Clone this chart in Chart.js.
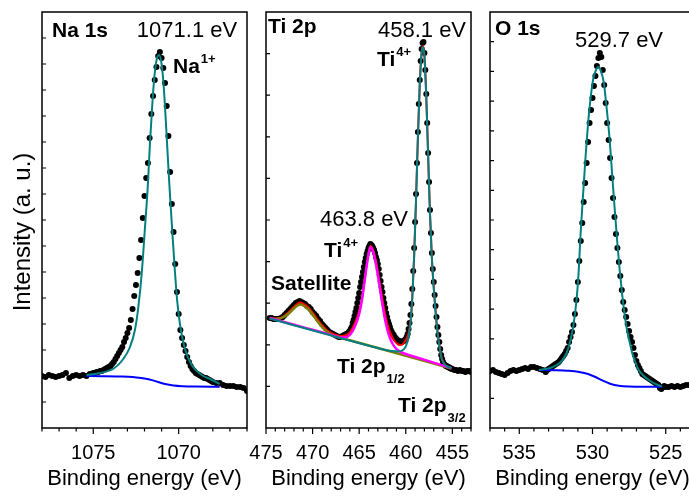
<!DOCTYPE html>
<html>
<head>
<meta charset="utf-8">
<script src="https://cdn.jsdelivr.net/npm/chart.js@4.4.0/dist/chart.umd.min.js"></script>
<style>
  html, body { margin: 0; padding: 0; background: #fff; overflow: hidden; }
  body { width: 689px; height: 499px; position: relative; }
  canvas { position: absolute; top: 0; }
</style>
</head>
<body>
<canvas id="naChart" width="260" height="499" style="left:0px"></canvas>
<canvas id="tiChart" width="260" height="499" style="left:224px"></canvas>
<canvas id="oChart" width="260" height="499" style="left:448px"></canvas>
<script>
// ===== XPS spectra: Na 1s, Ti 2p, O 1s =====
// [binding energy (eV), intensity (a.u.)]
const naRaw = [
  [1078.0,52],[1077.8,51],[1077.6,53],[1077.4,52],[1077.2,51],[1077.0,52],[1076.8,53],[1076.6,55],
  [1076.4,50],[1076.2,52],[1076.0,53],[1075.8,52],[1075.6,53],[1075.4,52],[1075.2,54],[1075.0,55],
  [1074.9,55],[1074.8,56],[1074.7,56],[1074.6,57],[1074.5,57],[1074.4,58],[1074.3,59],[1074.2,60],
  [1074.1,61],[1074.0,62],[1073.9,64],[1073.8,66],[1073.7,69],[1073.6,72],[1073.5,75],[1073.4,78],
  [1073.3,81],[1073.2,86],[1073.1,90],[1073.0,95],[1072.9,100],[1072.8,108],[1072.7,119],[1072.6,132],
  [1072.5,143],[1072.4,155],[1072.3,170],[1072.2,188],[1072.1,210],[1072.0,232],[1071.9,250],[1071.8,265],
  [1071.7,290],[1071.6,314],[1071.5,332],[1071.4,348],[1071.3,361],[1071.2,372],[1071.1,376],[1071.0,370],
  [1070.9,360],[1070.8,345],[1070.7,322],[1070.6,292],[1070.5,256],[1070.4,224],[1070.3,196],[1070.2,164],
  [1070.1,136],[1070.0,114],[1069.9,98],[1069.8,90],[1069.7,83],[1069.6,77],[1069.5,71],[1069.4,66],
  [1069.3,62],[1069.2,59],[1069.1,57],[1069.0,55],[1068.9,54],[1068.8,53],[1068.7,52],[1068.6,51],
  [1068.5,50],[1068.4,50],[1068.3,49],[1068.2,48],[1068.1,47],[1068.0,46],[1067.8,45],[1067.6,45],
  [1067.4,43],[1067.2,42],[1067.0,42],[1066.8,42],[1066.6,41],[1066.4,41],[1066.2,40],[1066.0,37]
];
const naFit = [
  [1075.4,53],[1074.6,55],[1073.8,59.5],[1073.24,69],[1072.85,81],[1072.56,98],[1072.36,121],[1072.16,155],
  [1071.97,201],[1071.81,241],[1071.68,285],[1071.52,330],[1071.38,358],[1071.25,371],[1071.15,373],[1071.0,364],
  [1070.86,338],[1070.7,291],[1070.55,245],[1070.39,201],[1070.23,159],[1070.08,126],[1069.88,99],[1069.63,79],
  [1069.24,63],[1068.65,53],[1068.1,48.5],[1067.6,44]
];
const naBackground = [
  [1075.4,52],[1074.5,51.8],[1073.5,51.5],[1072.7,51],[1072.2,50],[1071.7,48.5],[1071.2,46],[1070.8,44],
  [1070.3,42.5],[1069.8,41.8],[1069.0,41.4],[1067.6,41.3]
];

const tiRaw = [
  [474.6,110],[474.4,110],[474.2,109],[474.0,109],[473.8,109],[473.6,109],[473.4,110],[473.2,111],
  [473.0,113],[472.8,115],[472.6,117],[472.4,119],[472.2,121],[472.0,123],[471.8,125],[471.6,126],
  [471.4,127],[471.2,126],[471.0,125],[470.8,124],[470.6,122],[470.4,121],[470.2,119],[470.0,116],
  [469.8,114],[469.6,112],[469.4,109],[469.2,107],[469.0,104],[468.8,102],[468.6,100],[468.4,98],
  [468.2,96],[468.0,95],[467.8,94],[467.6,93],[467.4,92],[467.2,91],[467.0,91],[466.8,92],
  [466.6,93],[466.4,94],[466.2,95],[466.1,96],[466.0,97],[465.9,99],[465.8,101],[465.7,105],
  [465.6,108],[465.5,112],[465.4,116],[465.3,120],[465.2,125],[465.1,130],[465.0,135],[464.9,141],
  [464.8,146],[464.7,151],[464.6,156],[464.5,161],[464.4,166],[464.3,170],[464.2,174],[464.1,177],
  [464.0,180],[463.9,182],[463.8,184],[463.7,183],[463.6,182],[463.5,180],[463.4,178],[463.3,175],
  [463.2,171],[463.1,168],[463.0,164],[462.9,159],[462.8,153],[462.7,147],[462.6,141],[462.5,136],
  [462.4,130],[462.3,125],[462.2,120],[462.1,115],[462.0,111],[461.9,107],[461.8,104],[461.7,101],
  [461.6,98],[461.5,96],[461.4,94],[461.3,93],[461.2,91],[461.1,90],[461.0,89],[460.9,88],
  [460.8,87],[460.7,87],[460.6,86],[460.5,86],[460.4,86],[460.3,87],[460.2,87],[460.1,88],
  [460.0,89],[459.9,91],[459.8,94],[459.7,99],[459.6,105],[459.5,113],[459.4,124],[459.3,139],
  [459.2,157],[459.1,180],[459.0,206],[458.9,234],[458.8,265],[458.7,296],[458.6,324],[458.5,348],
  [458.4,367],[458.3,379],[458.2,385],[458.1,386],[458.0,375],[457.9,358],[457.8,334],[457.7,305],
  [457.6,275],[457.5,246],[457.4,218],[457.3,195],[457.2,175],[457.1,159],[457.0,146],[456.9,133],
  [456.8,122],[456.7,111],[456.6,101],[456.5,93],[456.4,86],[456.3,79],[456.2,73],[456.1,69],
  [456.0,66],[455.9,64],[455.8,63],[455.7,62],[455.6,62],[455.5,61],[455.4,61],[455.3,60],
  [455.2,60],[455.1,59],[455.0,59],[454.8,58],[454.6,58],[454.4,57],[454.2,58],[454.0,57],
  [453.8,57],[453.6,56],[453.4,57],[453.2,57],[453.0,56]
];
const tiEnvelope = [
  [474.6,110],[474.0,109.5],[473.5,110],[473.0,112.5],[472.5,116.5],[472.0,121],[471.6,124.5],[471.3,125.5],
  [471.0,124.5],[470.5,121],[470.0,115.5],[469.5,109],[469.0,103],[468.5,98],[468.0,95],[467.5,93],
  [467.0,92],[466.5,92.5],[466.0,95.5],[465.5,104],[465.0,117],[464.7,130],[464.4,149],[464.1,169],
  [463.8,182],[463.5,178],[463.2,167],[462.9,151],[462.6,134],[462.3,118],[462.0,105],[461.6,94],
  [461.2,87],[460.8,83.5],[460.5,83],[460.2,85],[459.9,90],[459.7,95],[459.5,106],[459.3,131],
  [459.1,172.5],[458.9,228.5],[458.7,290.5],[458.5,343.5],[458.3,375.5],[458.15,382],[458.0,373],[457.8,331.5],
  [457.6,272.5],[457.4,214.5],[457.2,170.5],[457.0,141],[456.8,117],[456.6,97],[456.4,83],[456.2,72],
  [456.0,66.5],[455.7,62.5],[455.4,61],[455.1,60]
];
const tiSatellite = [
  [474.6,110],[474.0,109],[473.5,109.5],[473.0,111.5],[472.5,115],[472.0,119.5],[471.6,122.5],[471.3,123.5],
  [471.0,122.5],[470.5,119],[470.0,113.5],[469.5,107],[469.0,101],[468.5,96.5],[468.0,93.5],[467.5,91.5],
  [467.0,90.3],[466.0,87.8],[455.1,59.5]
];
const tiP12 = [
  [474.6,110],[472.0,103.3],[470.0,98.2],[468.0,93.1],[467.0,90.6],[466.5,90.6],[466.0,93],[465.5,100.5],
  [465.0,114],[464.7,128],[464.4,148],[464.1,168],[463.8,181],[463.5,176],[463.2,164],[462.9,147],
  [462.6,129],[462.3,112],[462.0,99],[461.7,90],[461.4,84],[461.1,80],[460.8,77.5],[460.4,75.5],
  [460.0,74],[459.5,72.5],[455.1,60]
];
const tiP32 = [
  [474.6,109.5],[468.0,92.5],[463.0,80],[461.5,77],[460.8,76.5],[460.4,77.5],[460.1,80],[459.9,84],
  [459.7,91],[459.5,104],[459.3,130],[459.1,172],[458.9,228],[458.7,290],[458.5,343],[458.3,375],
  [458.15,381],[458.0,372],[457.8,331],[457.6,272],[457.4,214],[457.2,170],[457.0,140],[456.8,116],
  [456.6,96],[456.4,82],[456.2,71],[456.0,66],[455.7,62.5],[455.4,61],[455.1,60]
];

const oRaw = [
  [537.0,57],[536.8,58],[536.6,56],[536.4,55],[536.2,54],[536.0,53],[535.8,55],[535.6,57],
  [535.4,58],[535.2,57],[535.0,58],[534.8,59],[534.6,60],[534.4,59],[534.2,61],[534.0,61],
  [533.8,60],[533.6,59],[533.4,58],[533.2,56],[533.1,58],[533.0,59],[532.9,60],[532.8,61],
  [532.7,62],[532.6,63],[532.5,64],[532.4,65],[532.3,66],[532.2,68],[532.1,70],[532.0,72],
  [531.9,74],[531.8,77],[531.7,80],[531.6,86],[531.5,91],[531.4,96],[531.3,103],[531.2,114],
  [531.1,128],[531.0,146],[530.9,167],[530.8,187],[530.7,205],[530.6,226],[530.5,245],[530.4,265],
  [530.3,286],[530.2,305],[530.1,318],[530.0,330],[529.9,342],[529.8,352],[529.7,362],[529.6,370],
  [529.5,375],[529.4,371],[529.3,358],[529.2,343],[529.1,325],[529.0,305],[528.9,288],[528.8,270],
  [528.7,250],[528.6,230],[528.5,211],[528.4,194],[528.3,180],[528.2,166],[528.1,152],[528.0,138],
  [527.9,126],[527.8,118],[527.7,111],[527.6,104],[527.5,97],[527.4,91],[527.3,86],[527.2,80],
  [527.1,73],[527.0,67],[526.9,63],[526.8,60],[526.7,57],[526.6,54],[526.5,53],[526.4,52],
  [526.3,51],[526.2,50],[526.1,49],[526.0,48],[525.9,47],[525.8,46],[525.7,45],[525.6,44],
  [525.5,43],[525.4,40],[525.3,39],[525.2,41],[525.1,42],[525.0,41],[524.8,41],[524.6,42],
  [524.4,41],[524.2,42],[524.0,41],[523.8,42],[523.6,43],[523.4,43],[523.2,44],[523.0,43]
];
const oFit = [
  [533.66,58],[533.0,59.5],[532.5,62.5],[532.1,67],[531.77,75],[531.5,88],[531.3,103],[531.09,128],
  [530.95,155],[530.81,195],[530.65,232],[530.47,272],[530.3,305],[530.13,330],[529.95,349],[529.79,357],
  [529.6,361],[529.45,358],[529.22,345],[529.07,325],[528.93,305],[528.8,283],[528.66,254],[528.5,222],
  [528.31,186],[528.15,159],[527.97,133],[527.8,113],[527.63,97],[527.45,85],[527.29,75],[527.05,65],
  [526.84,58],[526.5,52],[526.15,48],[525.7,44],[525.25,41.5]
];
const oBackground = [
  [533.66,58],[532.6,57.8],[531.6,57.2],[530.9,56],[530.3,54],[529.8,51],[529.3,47.3],[528.8,44.3],
  [528.2,42.2],[527.5,41.4],[526.5,41.2],[525.25,41.2]
];

const FONT = "'Liberation Sans', Arial, sans-serif";
Chart.defaults.font.family = FONT;
Chart.defaults.color = '#000';

const toPts = arr => arr.map(([x, y]) => ({ x, y }));

// frame, tick marks and text labels
const xpsPlugin = {
  id: 'xps',
  afterDraw(chart, args, opts) {
    const { ctx, chartArea: a, scales: { x, y } } = chart;
    ctx.save();
    ctx.strokeStyle = '#000';
    ctx.lineWidth = 1.5;
    ctx.strokeRect(a.left, a.top, a.right - a.left, a.bottom - a.top);
    ctx.lineWidth = 1.2;
    ctx.beginPath();
    for (let e = Math.ceil(x.min); e <= x.max; e++) {
      const px = x.getPixelForValue(e);
      ctx.moveTo(px, a.bottom);
      ctx.lineTo(px, a.bottom + (e % 5 === 0 ? 6 : 3.5));
    }
    for (let v = opts.yStep; v < y.max - 1; v += opts.yStep) {
      const py = y.getPixelForValue(v);
      ctx.moveTo(a.left, py);
      ctx.lineTo(a.left + 4, py);
    }
    ctx.stroke();

    ctx.fillStyle = '#000';
    ctx.textBaseline = 'alphabetic';
    opts.notes.forEach(n => {
      ctx.font = (n.bold ? 'bold ' : '') + (n.bold ? 21 : 22) + 'px ' + FONT;
      ctx.textAlign = n.align || 'left';
      const x0 = a.left + n.x, y0 = a.top + n.y;
      ctx.fillText(n.text, x0, y0);
      if (n.sup || n.sub) {
        const w = ctx.measureText(n.text).width;
        const xr = n.align === 'center' ? x0 + w / 2 : x0 + w;
        ctx.font = 'bold 13px ' + FONT;
        ctx.textAlign = 'left';
        ctx.fillText(n.sup || n.sub, xr + 1, n.sup ? y0 - 10 : y0 + 10);
      }
    });

    if (opts.yLabel) {
      ctx.translate(23, 232);
      ctx.rotate(-Math.PI / 2);
      ctx.font = '24px ' + FONT;
      ctx.textAlign = 'center';
      ctx.textBaseline = 'middle';
      ctx.fillText(opts.yLabel, 0, 0);
    }
    ctx.restore();
  }
};

function makePanel(id, p) {
  const lines = p.lines.map(l => ({
    data: toPts(l.pts), showLine: true, borderColor: l.color, borderWidth: l.width || 2,
    pointRadius: 0, cubicInterpolationMode: 'monotone', fill: false
  }));
  return new Chart(document.getElementById(id), {
    type: 'scatter',
    data: {
      datasets: [...lines, {
        data: toPts(p.raw), showLine: false, pointRadius: 3,
        pointBackgroundColor: '#000', pointBorderWidth: 0
      }]
    },
    options: {
      responsive: false, animation: false,
      layout: { padding: { left: 42, right: 13, top: 12, bottom: 0 } },
      plugins: {
        legend: { display: false }, tooltip: { enabled: false },
        xps: { yStep: 416 / p.yDiv, notes: p.notes, yLabel: p.yLabel }
      },
      scales: {
        x: {
          type: 'linear', reverse: true, min: p.xMin, max: p.xMax,
          grid: { display: false, drawTicks: false }, border: { display: false },
          ticks: {
            stepSize: 5, includeBounds: false, autoSkip: false, maxRotation: 0, padding: 13,
            font: { size: 20 }, callback: v => String(v)
          },
          title: { display: true, text: 'Binding energy (eV)', font: { size: 22 }, padding: { top: 0, bottom: 7 } },
          afterFit: s => { s.height = 71; }
        },
        y: { display: false, min: 0, max: 416 }
      }
    },
    plugins: [xpsPlugin]
  });
}

makePanel('naChart', {
  xMin: 1066, xMax: 1078, yDiv: 16, raw: naRaw,
  yLabel: 'Intensity (a. u.)',
  lines: [{ pts: naFit, color: '#008080' }, { pts: naBackground, color: '#0000ff' }],
  notes: [
    { text: 'Na 1s', x: 10, y: 25, bold: true },
    { text: '1071.1 eV', x: 145, y: 25, align: 'center' },
    { text: 'Na', x: 131, y: 61, bold: true, sup: '1+' }
  ]
});

makePanel('tiChart', {
  xMin: 453, xMax: 475, yDiv: 10, raw: tiRaw,
  lines: [
    { pts: tiP32, color: '#008080' },
    { pts: tiP12, color: '#ff00ff', width: 2.5 },
    { pts: tiSatellite, color: '#808000', width: 2.5 },
    { pts: tiEnvelope, color: '#ff0000' }
  ],
  notes: [
    { text: 'Ti 2p', x: 2, y: 21, bold: true },
    { text: '458.1 eV', x: 156, y: 25, align: 'center' },
    { text: 'Ti', x: 111, y: 54, bold: true, sup: '4+' },
    { text: '463.8 eV', x: 98, y: 214, align: 'center' },
    { text: 'Ti', x: 58, y: 245, bold: true, sup: '4+' },
    { text: 'Satellite', x: 5, y: 278, bold: true },
    { text: 'Ti 2p', x: 71, y: 361, bold: true, sub: '1/2' },
    { text: 'Ti 2p', x: 132, y: 400, bold: true, sub: '3/2' }
  ]
});

makePanel('oChart', {
  xMin: 523, xMax: 537, yDiv: 14, raw: oRaw,
  lines: [{ pts: oFit, color: '#008080' }, { pts: oBackground, color: '#0000ff' }],
  notes: [
    { text: 'O 1s', x: 5, y: 23, bold: true },
    { text: '529.7 eV', x: 129, y: 35, align: 'center' }
  ]
});
</script>
</body>
</html>
